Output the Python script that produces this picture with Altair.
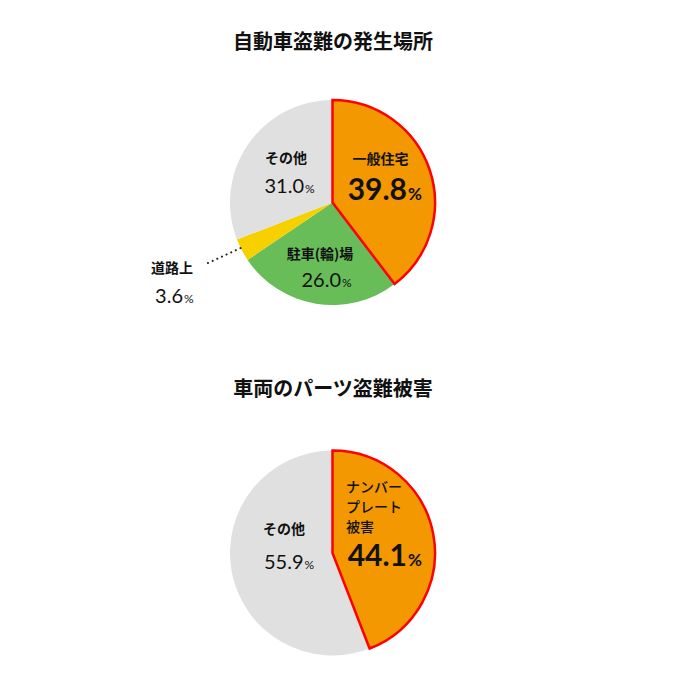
import altair as alt
import pandas as pd

titles = ["自動車盗難の発生場所", "車両のパーツ盗難被害"]

place_labels = ["一般住宅", "駐車(輪)場", "道路上", "その他"]
place_values = [39.8, 26.0, 3.6, 31.0]
place_colors = ["#F39800", "#68BD58", "#F7D000", "#E0E0E0"]

parts_labels = ["ナンバー\nプレート\n被害", "その他"]
parts_values = [44.1, 55.9]
parts_colors = ["#F39800", "#E0E0E0"]

JP = "Noto Sans CJK JP"
NUM = "Lato"
INK = "#111111"
R = 102.5

df1 = pd.DataFrame({"cat": place_labels, "value": place_values, "order": list(range(len(place_labels)))})
df2 = pd.DataFrame({"cat": parts_labels, "value": parts_values, "order": list(range(len(parts_labels)))})
df_titles = pd.DataFrame({"title": titles, "i": [0, 1]})

color_scale = alt.Scale(domain=place_labels + [parts_labels[0]],
                        range=place_colors + [parts_colors[0]])


def pie(df, cx, cy):
    base = alt.Chart(df).encode(
        theta=alt.Theta("value:Q", stack=True),
        order=alt.Order("order:Q"),
        x=alt.value(cx),
        y=alt.value(cy),
    )
    fill = base.mark_arc(outerRadius=R).encode(
        color=alt.Color("cat:N", scale=color_scale, legend=None)
    )
    outline = base.mark_arc(outerRadius=R, fillOpacity=0, stroke="#FF0000", strokeJoin="miter").encode(
        strokeWidth=alt.condition(alt.datum.order == 0, alt.value(2.5), alt.value(0))
    )
    return [fill, outline]


def cat_label(df, idx, x, y, size=14, weight="bold", align="center", **kw):
    return alt.Chart(df).transform_filter(alt.datum.order == idx).mark_text(
        font=JP, fontSize=size, fontWeight=weight, align=align, baseline="middle", color=INK, **kw
    ).encode(text="cat:N", x=alt.value(x), y=alt.value(y))


def pct_label(df, idx, x, y, size, psize, weight="normal"):
    num = alt.Chart(df).transform_filter(alt.datum.order == idx).mark_text(
        font=NUM, fontSize=size, fontWeight=weight, align="right", baseline="alphabetic", color=INK
    ).encode(text=alt.Text("value:Q", format=".1f"), x=alt.value(x), y=alt.value(y))
    pct = alt.Chart(df).transform_filter(alt.datum.order == idx).mark_text(
        text="%", font=NUM, fontSize=psize, fontWeight=weight, align="left", baseline="alphabetic", color=INK
    ).encode(x=alt.value(x + 1), y=alt.value(y))
    return [num, pct]


def title(i, y):
    return alt.Chart(df_titles).transform_filter(alt.datum.i == i).mark_text(
        font=JP, fontSize=20, fontWeight="bold", align="center", baseline="middle", color=INK
    ).encode(text="title:N", x=alt.value(325), y=alt.value(y))


leader = alt.Chart(pd.DataFrame({"k": [0]})).mark_rule(
    color="#222222", strokeWidth=2, strokeDash=[0.1, 5], strokeCap="round"
).encode(x=alt.value(200), y=alt.value(255), x2=alt.value(237), y2=alt.value(238))

layers = []
layers += [title(0, 35), title(1, 382)]
layers += pie(df1, 324.5, 194.5)
layers += pie(df2, 324.5, 545)
layers += [cat_label(df1, 0, 372.5, 152)]
layers += pct_label(df1, 0, 399, 192, 30, 17, "bold")
layers += [cat_label(df1, 3, 278, 151)]
layers += pct_label(df1, 3, 296, 185, 20, 12)
layers += [cat_label(df1, 1, 312, 247)]
layers += pct_label(df1, 1, 333, 279, 20, 12)
layers += [cat_label(df1, 2, 164, 261)]
layers += pct_label(df1, 2, 175, 295, 20, 12)
layers += [leader]
layers += [cat_label(df2, 0, 338, 480, weight=500, align="left", lineBreak="\n", lineHeight=20)]
layers += pct_label(df2, 0, 399, 558, 30, 17, "bold")
layers += [cat_label(df2, 1, 276, 522)]
layers += pct_label(df2, 1, 295.5, 561, 20, 12)

chart = alt.layer(*layers).resolve_scale(theta="independent").properties(
    width=684, height=684, padding=0, autosize="none", background="white"
).configure_view(stroke=None)

chart.save("out.html", embed_options={"renderer": "svg", "actions": False})
